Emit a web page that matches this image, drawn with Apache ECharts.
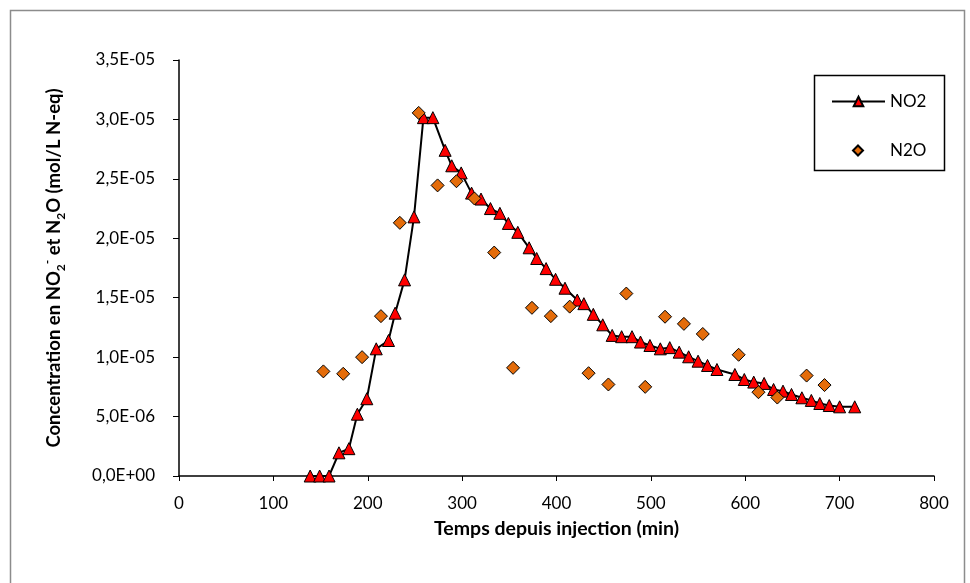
<!DOCTYPE html>
<html>
<head>
<meta charset="utf-8">
<script src="https://cdn.jsdelivr.net/npm/echarts@6/dist/echarts.min.js"></script>
<style>
  html, body { margin: 0; padding: 0; background: #fff; }
  #chart { width: 970px; height: 583px; }
</style>
</head>
<body>
<div id="chart"></div>
<script>
// NO2 (triangles + line)
const no2Time = [139, 149, 159, 169.5, 180, 189, 199, 209, 222, 229, 239, 249, 259, 269, 282, 289, 299,
  310, 320, 330, 340, 349, 359, 371, 379, 389, 399, 409, 422, 429, 439, 449, 459, 469, 480, 489, 499,
  510, 520, 530, 540, 550, 560, 570, 589, 599, 609, 620, 630, 640, 649, 660, 670, 679, 689, 700, 716]
const no2Conc = [0, 0, 0, 0.195e-5, 0.23e-5, 0.52e-5, 0.65e-5, 1.07e-5, 1.14e-5, 1.37e-5, 1.65e-5, 2.18e-5,
  3.015e-5, 3.015e-5, 2.74e-5, 2.61e-5, 2.55e-5, 2.38e-5, 2.33e-5, 2.25e-5, 2.21e-5, 2.125e-5, 2.05e-5,
  1.92e-5, 1.83e-5, 1.745e-5, 1.655e-5, 1.58e-5, 1.48e-5, 1.45e-5, 1.36e-5, 1.272e-5, 1.183e-5, 1.172e-5,
  1.172e-5, 1.127e-5, 1.098e-5, 1.07e-5, 1.08e-5, 1.042e-5, 1.003e-5, 0.966e-5, 0.93e-5, 0.896e-5,
  0.854e-5, 0.812e-5, 0.79e-5, 0.779e-5, 0.728e-5, 0.714e-5, 0.686e-5, 0.658e-5, 0.636e-5, 0.61e-5,
  0.593e-5, 0.582e-5, 0.582e-5]

// N2O (diamonds only)
const n2oTime = [153, 174, 194, 214, 234, 254, 274, 294, 313, 334, 354, 374, 394, 414, 434, 455, 474,
  494, 515, 535, 555, 593, 614, 634, 665, 684]
const n2oConc = [0.88e-5, 0.86e-5, 1.0e-5, 1.345e-5, 2.13e-5, 3.055e-5, 2.445e-5, 2.48e-5, 2.335e-5,
  1.88e-5, 0.91e-5, 1.415e-5, 1.345e-5, 1.425e-5, 0.865e-5, 0.77e-5, 1.535e-5, 0.75e-5, 1.34e-5,
  1.28e-5, 1.195e-5, 1.02e-5, 0.705e-5, 0.66e-5, 0.845e-5, 0.765e-5]

const xTicks = [0, 100, 200, 300, 400, 500, 600, 700, 800]
const yTicks = [0, 0.5e-5, 1.0e-5, 1.5e-5, 2.0e-5, 2.5e-5, 3.0e-5, 3.5e-5]

const FONT = 'Lato'

function sciComma (v) {
  if (Math.abs(v) < 1e-15) return '0,0E+00'
  let e = Math.floor(Math.log10(Math.abs(v)) + 1e-9)
  let m = Math.round(v / Math.pow(10, e) * 10) / 10
  if (Math.abs(m) >= 10) { m = m / 10; e += 1 }
  return m.toFixed(1).replace('.', ',') + 'E' + (e < 0 ? '-' : '+') + String(Math.abs(e)).padStart(2, '0')
}

const zip = (xs, ys) => xs.map((x, i) => [x, ys[i]])

const chart = echarts.init(document.getElementById('chart'), null, { renderer: 'canvas' })

chart.setOption({
  backgroundColor: '#fff',
  animation: false,
  textStyle: { fontFamily: FONT, color: '#000' },
  grid: { left: 179, right: 36, top: 60, bottom: 107, containLabel: false },
  graphic: [
    { type: 'rect', shape: { x: 10.5, y: 10.5, width: 954, height: 590 },
      style: { fill: 'none', stroke: '#8c8c8c', lineWidth: 1.5 }, silent: true },
    { type: 'rect', shape: { x: 814.5, y: 75.5, width: 130, height: 95 },
      style: { fill: '#fff', stroke: '#000', lineWidth: 1.5 }, z: 5, silent: true }
  ],
  legend: [
    {
      orient: 'vertical',
      left: 831,
      top: 93,
      padding: 0,
      itemWidth: 53,
      itemHeight: 12,
      z: 10,
      textStyle: { fontFamily: FONT, fontSize: 17, color: '#000' },
      data: ['NO2']
    },
    {
      orient: 'vertical',
      left: 852,
      top: 142,
      padding: 0,
      itemWidth: 10,
      itemHeight: 10,
      z: 10,
      textStyle: { fontFamily: FONT, fontSize: 17, color: '#000', padding: [0, 0, 0, 22] },
      data: ['N2O']
    }
  ],
  xAxis: {
    type: 'value',
    min: 0,
    max: 800,
    interval: 100,
    name: 'Temps depuis injection (min)',
    nameLocation: 'middle',
    nameGap: 43,
    nameTextStyle: { fontFamily: FONT, fontWeight: 'bold', fontSize: 19.5, color: '#000' },
    axisLine: { onZero: false, lineStyle: { color: '#000', width: 1.5 } },
    axisTick: { show: true, length: 5, inside: false, lineStyle: { color: '#000' } },
    axisLabel: { margin: 19, fontSize: 17, color: '#000', fontFamily: FONT,
      formatter: v => (xTicks.includes(v) ? String(v) : '') },
    splitLine: { show: false }
  },
  yAxis: {
    type: 'value',
    min: 0,
    max: 3.5e-5,
    interval: 0.5e-5,
    name: '{a|Concentration en NO}{s|2}{p|-}{a| et N}{s|2}{a|O (mol/L N-eq)}',
    nameLocation: 'middle',
    nameGap: 112,
    nameRotate: 90,
    nameTextStyle: {
      fontFamily: FONT, fontWeight: 'bold', fontSize: 18.5, color: '#000',
      rich: {
        a: { fontFamily: FONT, fontWeight: 'bold', fontSize: 18.5, color: '#000', lineHeight: 26, verticalAlign: 'middle' },
        s: { fontFamily: FONT, fontWeight: 'bold', fontSize: 12, color: '#000', lineHeight: 12, verticalAlign: 'bottom' },
        p: { fontFamily: FONT, fontWeight: 'bold', fontSize: 12, color: '#000', lineHeight: 12, verticalAlign: 'top' }
      }
    },
    axisLine: { show: true, lineStyle: { color: '#000', width: 1.5 } },
    axisTick: { show: true, length: 6, inside: false, lineStyle: { color: '#000' } },
    axisLabel: { margin: 24, fontSize: 17, color: '#000', fontFamily: FONT,
      formatter: v => sciComma(yTicks.reduce((a, t) => (Math.abs(t - v) < Math.abs(a - v) ? t : a), yTicks[0])) },
    splitLine: { show: false }
  },
  series: [
    {
      name: 'NO2',
      type: 'line',
      data: zip(no2Time, no2Conc),
      symbol: 'triangle',
      symbolSize: 12,
      showAllSymbol: true,
      lineStyle: { color: '#000', width: 2 },
      itemStyle: { color: '#ff0000', borderColor: '#000', borderWidth: 1 },
      z: 3
    },
    {
      name: 'N2O',
      type: 'scatter',
      data: zip(n2oTime, n2oConc),
      symbol: 'diamond',
      symbolSize: 13,
      itemStyle: { color: '#e46c0a', borderColor: '#000', borderWidth: 1, opacity: 1 },
      z: 3
    }
  ]
})
</script>
</body>
</html>
